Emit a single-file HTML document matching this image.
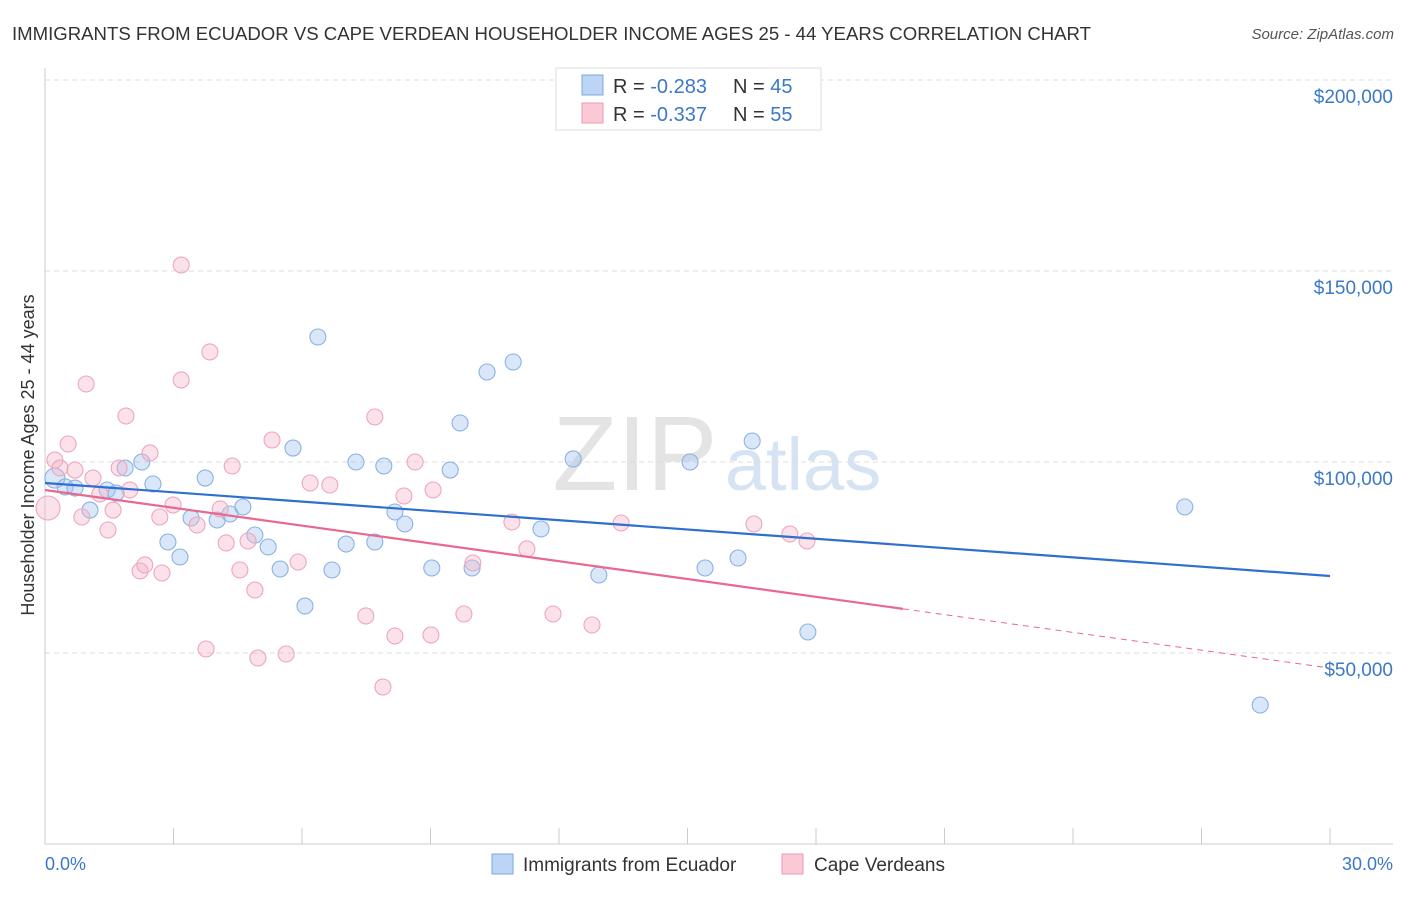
<!DOCTYPE html>
<html><head><meta charset="utf-8"><style>
body{margin:0;background:#fff;font-family:"Liberation Sans",sans-serif}
svg text{font-family:"Liberation Sans",sans-serif}
</style></head><body>
<svg id="c" width="1406" height="892" xmlns="http://www.w3.org/2000/svg">
<text x="12" y="40" font-size="18.6" fill="#333" textLength="1079">IMMIGRANTS FROM ECUADOR VS CAPE VERDEAN HOUSEHOLDER INCOME AGES 25 - 44 YEARS CORRELATION CHART</text>
<text x="1394" y="39" font-size="15" fill="#555" font-style="italic" text-anchor="end">Source: ZipAtlas.com</text>
<text x="635" y="490" font-size="106" fill="#e4e4e4" font-family="Liberation Serif" text-anchor="middle">ZIP</text>
<text x="803" y="490" font-size="74" fill="#d6e3f3" text-anchor="middle">atlas</text>
<g id="grid"></g>
<g id="pts"></g>
<g id="lines"></g>
<text transform="translate(34,455) rotate(-90)" font-size="18" fill="#333" text-anchor="middle">Householder Income Ages 25 - 44 years</text>
<text x="45" y="870" font-size="18" fill="#3b78c8">0.0%</text>
<text x="1393" y="870" font-size="18" fill="#3b78c8" text-anchor="end">30.0%</text>
<g>
<rect x="556" y="68" width="265" height="62" fill="#fff" stroke="#ddd"/>
<rect x="582" y="75" width="21" height="20" fill="#bcd5f5" stroke="#7aa8e0"/>
<rect x="582" y="103" width="21" height="20" fill="#fbc8d6" stroke="#eb9ab5"/>
<text x="613" y="93" font-size="20" fill="#333">R = <tspan fill="#3b78c8">-0.283</tspan></text>
<text x="733" y="93" font-size="20" fill="#333">N = <tspan fill="#3b78c8">45</tspan></text>
<text x="613" y="121" font-size="20" fill="#333">R = <tspan fill="#3b78c8">-0.337</tspan></text>
<text x="733" y="121" font-size="20" fill="#333">N = <tspan fill="#3b78c8">55</tspan></text>
</g>
<g>
<rect x="492" y="854" width="21" height="20" fill="#bcd5f5" stroke="#7aa8e0"/>
<text x="523" y="871" font-size="19" fill="#333">Immigrants from Ecuador</text>
<rect x="782" y="854" width="21" height="20" fill="#fbc8d6" stroke="#eb9ab5"/>
<text x="814" y="871" font-size="19" fill="#333">Cape Verdeans</text>
</g>
</svg>
<script>
const yTicks=[50000,100000,150000,200000];
const yTickLabels=["$50,000","$100,000","$150,000","$200,000"];
const xTicks=[0,3,6,9,12,15,18,21,24,27,30];
const blueX=[0.23,0.47,0.70,1.05,1.45,1.66,1.87,2.26,2.52,2.87,3.15,3.41,3.74,4.02,4.32,4.62,4.90,5.21,5.49,5.79,6.07,6.37,6.70,7.03,7.26,7.70,7.91,8.17,8.40,9.03,9.46,9.69,9.97,10.32,10.93,11.58,12.33,12.93,15.06,15.41,16.18,16.51,17.81,26.61,28.37];
const blueY=[95800,93460,93190,87430,92670,91880,98430,100000,94240,79060,75130,85340,95800,84820,86390,88220,80890,77750,71990,103660,62300,132720,71730,78530,100000,79060,98950,86910,83770,72250,97900,110210,72250,123560,126180,82460,100790,70420,100000,72250,74870,105500,55500,88220,36390];
const pinkX=[0.07,0.23,0.35,0.54,0.70,0.86,0.96,1.12,1.28,1.47,1.59,1.73,1.89,1.98,2.22,2.33,2.45,2.68,2.73,2.99,3.18,3.18,3.55,3.76,3.85,4.09,4.23,4.37,4.55,4.74,4.90,4.97,5.30,5.63,5.91,6.19,6.65,7.49,7.70,7.89,8.17,8.38,8.64,9.01,9.06,9.78,9.99,10.90,11.25,11.86,12.77,13.45,16.55,17.39,17.79];
const pinkY=[87960,100520,98430,104710,97900,85600,120420,95800,91620,82200,87430,98430,112040,92670,71470,73040,102360,85600,70940,88740,151570,121470,83510,51050,128800,87700,78800,98950,71730,79320,66490,48690,105760,49740,73820,94500,93980,59690,111780,41100,54450,91100,100000,54710,92670,60210,73560,84290,77230,60210,57330,84030,83770,81150,79320];
const blueTrend=[94500,70160];
const pinkTrend=[92670,46070];
const pinkSolidEnd=20.03;
const X=v=>45+v/30*1285, Y=v=>844-v/50000*191;
const NS="http://www.w3.org/2000/svg";
function mk(t,a,p){const e=document.createElementNS(NS,t);for(const k in a)e.setAttribute(k,a[k]);p.appendChild(e);return e;}
const grid=document.getElementById('grid');
yTicks.forEach((v,i)=>{
 const l=mk('line',{x1:45,x2:1393,y1:Y(v),y2:Y(v),stroke:'#ddd','stroke-dasharray':'5,4'},grid);
 
 
 const t=mk('text',{x:1393,y:Y(v)+23,'font-size':19,fill:'#3b78c8','text-anchor':'end'},grid);
 t.textContent=yTickLabels[i];
 
 
});
const ax=mk('line',{x1:45,x2:45,y1:68,y2:844,stroke:'#ccc'},grid);


const bx=mk('line',{x1:45,x2:1393,y1:844,y2:844,stroke:'#ccc'},grid);


xTicks.forEach(v=>{const t=mk('line',{x1:X(v),x2:X(v),y1:828,y2:844,stroke:'#ccc'},grid);
 
 });
const pts=document.getElementById('pts');
blueX.forEach((v,i)=>{const c=mk('circle',{cx:X(v),cy:Y(blueY[i]),r:i==0?10:8,fill:'rgba(160,196,240,0.4)',stroke:'#8ab2e4','stroke-width':1.1},pts);
 
 });
pinkX.forEach((v,i)=>{const c=mk('circle',{cx:X(v),cy:Y(pinkY[i]),r:i==0?12:8,fill:'rgba(245,180,200,0.4)',stroke:'#eea6bd','stroke-width':1.1},pts);
 
 });
const lines=document.getElementById('lines');
const b=mk('line',{x1:X(0),y1:Y(blueTrend[0]),x2:X(30),y2:Y(blueTrend[1]),stroke:'#2f6fd0','stroke-width':2.2},lines);


const pAt=x=>pinkTrend[0]+(pinkTrend[1]-pinkTrend[0])*x/30;
const p=mk('line',{x1:X(0),y1:Y(pAt(0)),x2:X(pinkSolidEnd),y2:Y(pAt(pinkSolidEnd)),stroke:'#e8688f','stroke-width':2.2},lines);


const pd=mk('line',{x1:X(pinkSolidEnd),y1:Y(pAt(pinkSolidEnd)),x2:X(30),y2:Y(pAt(30)),stroke:'#e8688f','stroke-width':1,'stroke-dasharray':'6,5'},lines);


</script>
</body></html>
